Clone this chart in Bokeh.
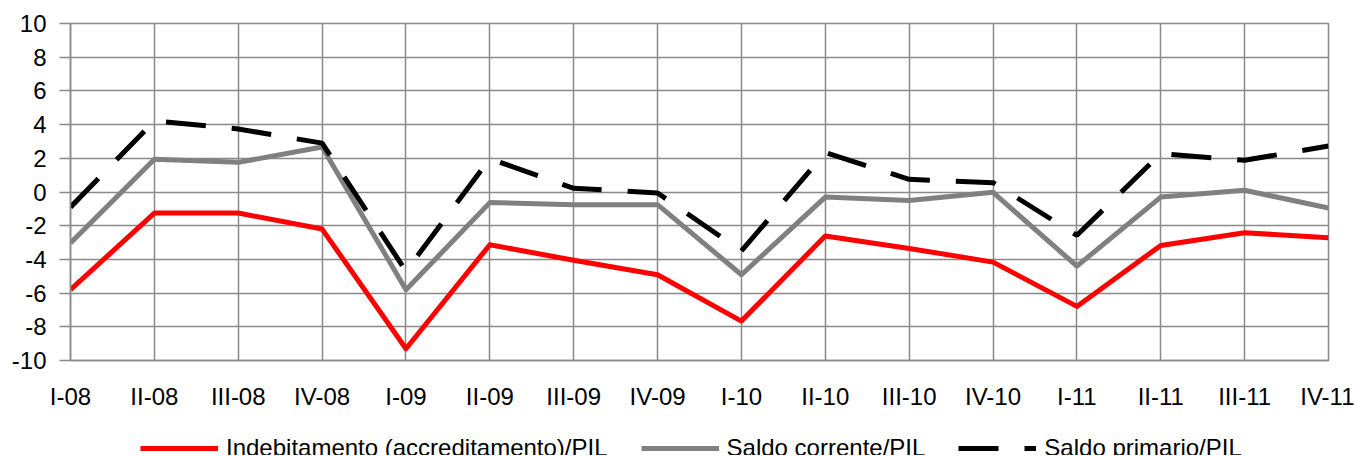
from bokeh.plotting import figure
from bokeh.layouts import column
from bokeh.models import Range1d, FixedTicker, Legend, LegendItem
from bokeh.embed import file_html
from bokeh.resources import INLINE

categories = ["I-08", "II-08", "III-08", "IV-08", "I-09", "II-09", "III-09", "IV-09",
              "I-10", "II-10", "III-10", "IV-10", "I-11", "II-11", "III-11", "IV-11"]
indebitamento = [-5.8, -1.25, -1.25, -2.2, -9.3, -3.13, -4.05, -4.91,
                 -7.66, -2.61, -3.35, -4.16, -6.79, -3.17, -2.42, -2.71]
saldo_corrente = [-3.03, 1.94, 1.76, 2.67, -5.8, -0.63, -0.75, -0.75,
                  -4.91, -0.30, -0.50, -0.02, -4.4, -0.3, 0.1, -0.95]
saldo_primario = [-0.9, 4.22, 3.74, 2.9, -4.7, 1.98, 0.22, -0.06,
                  -3.5, 2.34, 0.75, 0.55, -2.57, 2.28, 1.88, 2.73]
y_ticks = [-10, -8, -6, -4, -2, 0, 2, 4, 6, 8, 10]
labels = ["Indebitamento (accreditamento)/PIL", "Saldo corrente/PIL", "Saldo primario/PIL"]

x = list(range(len(categories)))
series_list = [indebitamento, saldo_corrente, saldo_primario]
GRID = "#898989"
FONT = "Liberation Sans"
STYLES = [dict(line_color="#ff0000", line_width=5, line_join="round"),
          dict(line_color="#808080", line_width=5, line_join="round"),
          dict(line_color="#000000", line_width=5, line_dash="40 26")]

p = figure(width=1354, height=428, output_backend="svg", toolbar_location=None,
           x_range=Range1d(0, len(categories) - 1), y_range=Range1d(y_ticks[0], y_ticks[-1]),
           min_border_left=70, min_border_right=26, min_border_top=23, min_border_bottom=68)
p.background_fill_color = "white"
p.border_fill_color = "white"
p.outline_line_color = GRID
p.outline_line_width = 1.5

p.xaxis.ticker = FixedTicker(ticks=x)
p.xaxis.major_label_overrides = {i: c for i, c in enumerate(categories)}
p.yaxis.ticker = FixedTicker(ticks=y_ticks)
p.yaxis.major_label_overrides = {v: str(v) for v in y_ticks}

for ax in (p.xaxis[0], p.yaxis[0]):
    ax.axis_line_color = GRID
    ax.axis_line_width = 1.5
    ax.major_tick_line_color = GRID
    ax.major_tick_line_width = 1.5
    ax.minor_tick_line_color = None
    ax.major_tick_in = 0
    ax.major_label_text_font = FONT
    ax.major_label_text_font_size = "24px"
    ax.major_label_text_color = "black"
p.xaxis.major_tick_out = 0
p.xaxis.major_label_standoff = 22
p.yaxis.major_tick_out = 11
p.yaxis.major_label_standoff = 13

p.xgrid.grid_line_color = GRID
p.xgrid.grid_line_width = 1.5
p.ygrid.grid_line_color = GRID
p.ygrid.grid_line_width = 1.5

for series, st in zip(series_list, STYLES):
    p.line(x, series, **st)

# legend strip below the chart, sharing the same horizontal frame;
# its line renderers lie outside its (empty) view, only the legend shows
lg = figure(width=1354, height=27, output_backend="svg", toolbar_location=None,
            x_axis_location=None, y_axis_location=None,
            x_range=Range1d(0, len(categories) - 1), y_range=Range1d(100, 101),
            min_border_left=70, min_border_right=26, min_border_top=0, min_border_bottom=0)
lg.outline_line_color = None
lg.xgrid.visible = False
lg.ygrid.visible = False
lg.background_fill_color = "white"
lg.border_fill_color = "white"
items = []
for lab, series, st in zip(labels, series_list, STYLES):
    r = lg.line(x, series, **st)
    items.append(LegendItem(label=lab, renderers=[r]))
legend = Legend(items=items, orientation="horizontal", location=(70, -7),
                glyph_width=78, glyph_height=24, label_height=24,
                label_standoff=8, spacing=33, padding=0, margin=0,
                border_line_color=None, background_fill_alpha=0,
                label_text_font=FONT, label_text_font_size="24px",
                label_text_color="black")
lg.add_layout(legend, "center")

layout = column(p, lg, spacing=0)
open("out.html", "w").write(file_html(layout, INLINE))
